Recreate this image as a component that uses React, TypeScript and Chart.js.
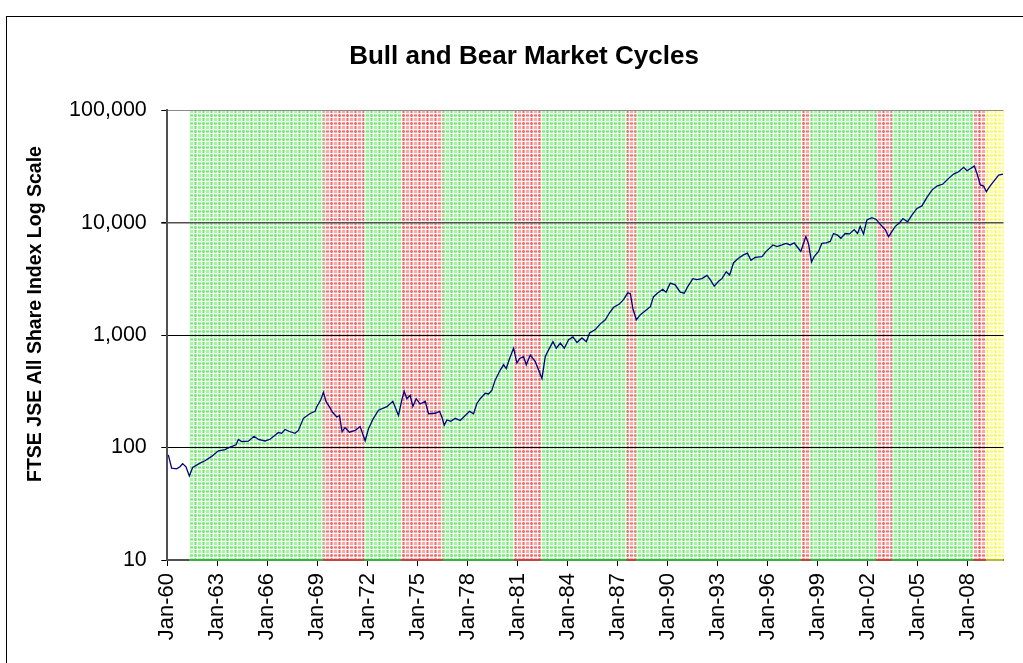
import React, { useEffect, useRef } from 'react';
import { Chart, registerables } from 'chart.js';

Chart.register(...registerables);

// Decimal year of each reading and FTSE/JSE All Share index value
const years = [
  1960.06, 1960.26, 1960.56, 1960.76, 1960.92, 1961.12, 1961.32, 1961.52, 1961.96, 1962.26,
  1962.66, 1963.06, 1963.46, 1963.76, 1964.12, 1964.26, 1964.46, 1964.86, 1965.2, 1965.46,
  1965.86, 1966.16, 1966.66, 1966.86, 1967.06, 1967.32, 1967.66, 1967.86, 1968.16, 1968.56,
  1968.86, 1968.96, 1969.2, 1969.36, 1969.52, 1969.72, 1969.92, 1970.16, 1970.32, 1970.48,
  1970.66, 1970.92, 1971.26, 1971.56, 1971.86, 1972.06, 1972.36, 1972.66, 1973.16, 1973.52,
  1973.86, 1974.06, 1974.2, 1974.36, 1974.56, 1974.72, 1974.92, 1975.16, 1975.46, 1975.66,
  1976.06, 1976.32, 1976.46, 1976.6, 1976.76, 1977.0, 1977.26, 1977.56, 1977.86, 1978.12,
  1978.36, 1978.56, 1978.76, 1979.06, 1979.26, 1979.46, 1979.66, 1979.96, 1980.16, 1980.32,
  1980.52, 1980.76, 1980.96, 1981.12, 1981.36, 1981.52, 1981.76, 1982.06, 1982.26, 1982.46,
  1982.66, 1982.96, 1983.12, 1983.32, 1983.56, 1983.8, 1984.06, 1984.32, 1984.56, 1984.86,
  1985.12, 1985.32, 1985.66, 1985.96, 1986.26, 1986.52, 1986.76, 1987.1, 1987.36, 1987.6,
  1987.76, 1987.92, 1988.12, 1988.36, 1988.66, 1988.96, 1989.15, 1989.38, 1989.7, 1989.9,
  1990.15, 1990.45, 1990.75, 1990.99, 1991.19, 1991.51, 1991.75, 1992.05, 1992.35, 1992.55,
  1992.79, 1993.05, 1993.25, 1993.51, 1993.71, 1993.95, 1994.24, 1994.54, 1994.78, 1994.99,
  1995.24, 1995.65, 1995.9, 1996.31, 1996.55, 1996.85, 1997.1, 1997.34, 1997.58, 1997.84,
  1997.98, 1998.14, 1998.28, 1998.44, 1998.5, 1998.62, 1998.78, 1999.04, 1999.24, 1999.5,
  1999.74, 1999.94, 2000.18, 2000.38, 2000.64, 2000.9, 2001.18, 2001.38, 2001.54, 2001.74,
  2001.94, 2002.24, 2002.5, 2002.78, 2003.04, 2003.24, 2003.44, 2003.64, 2003.9, 2004.1,
  2004.38, 2004.64, 2004.94, 2005.24, 2005.54, 2005.84, 2006.14, 2006.5, 2006.84, 2007.14,
  2007.44, 2007.74, 2007.94, 2008.18, 2008.38, 2008.54, 2008.74, 2008.94, 2009.1, 2009.3,
  2009.54, 2009.84, 2010.1,
];

const indexValues = [
  86, 65.5, 64.6, 67.5, 72, 67.5, 56, 66.5, 72.7, 76.4,
  83.5, 93.6, 95.8, 101, 106, 118, 113, 114, 126, 118,
  114.5, 118.5, 136, 134, 145, 139, 134, 142, 182, 201,
  210, 231, 266, 310, 256, 230, 205, 187, 193, 138,
  151, 137, 142, 154, 115, 147, 182, 215, 231, 258,
  193, 266, 317, 272, 292, 232, 272, 244, 258, 200,
  202, 210, 187, 158, 176, 171, 182, 174, 193, 210,
  200, 247, 272, 304, 300, 324, 400, 489, 545, 505,
  620, 765, 565, 620, 645, 545, 665, 582, 489, 412,
  645, 790, 875, 765, 850, 765, 910, 965, 860, 945,
  875, 1045, 1120, 1260, 1370, 1590, 1770, 1890, 2080, 2380,
  2340, 1700, 1370, 1520, 1650, 1790, 2200, 2360, 2560, 2410,
  2900, 2800, 2410, 2360, 2690, 3180, 3120, 3180, 3400, 3120,
  2730, 3010, 3180, 3670, 3430, 4410, 4830, 5170, 5360, 4640,
  4920, 5000, 5560, 6340, 6140, 6340, 6540, 6340, 6620, 5900,
  5560, 6540, 7530, 6540, 5740, 4480, 4990, 5560, 6540, 6620,
  6820, 8020, 7750, 7280, 8020, 7950, 8680, 8020, 9280, 7950,
  10600, 11100, 10700, 9530, 8690, 7530, 8350, 9280, 10000, 10900,
  10200, 11700, 13400, 14100, 16800, 19500, 21200, 22100, 24800, 27100,
  28400, 31100, 29000, 30500, 31900, 27500, 21700, 21200, 18900, 20900,
  23300, 26500, 27100,
];

// Market-cycle shading: edges (decimal years) and the kind of each band between them
const bandEdges = [
  1961.3, 1969.36, 1971.81, 1974.01, 1976.52, 1980.81, 1982.41, 1987.55,
  1988.09, 1998.0, 1998.56, 2002.5, 2003.44, 2008.34, 2009.08, 2010.13,
];
const bandKinds = [
  'bull', 'bear', 'bull', 'bear', 'bull', 'bear', 'bull', 'bear',
  'bull', 'bear', 'bull', 'bear', 'bull', 'bear', 'current',
];

const xTickYears = [1960, 1963, 1966, 1969, 1972, 1975, 1978, 1981, 1984, 1987, 1990, 1993, 1996, 1999, 2002, 2005, 2008];
const yTickValues = [10, 100, 1000, 10000, 100000];
const xMin = 1960;
const xMax = 2010.13;

const TITLE = 'Bull and Bear Market Cycles';
const Y_TITLE = 'FTSE JSE All Share Index Log Scale';
const FONT = '"Liberation Sans", Arial, Helvetica, sans-serif';

const palette: Record<string, { base: string; light: string; dark: string; edge: string }> = {
  bull: { base: '#a6f6a6', light: '#f4fff4', dark: '#78e878', edge: '#3fae3f' },
  bear: { base: '#f8aaaa', light: '#fff4f4', dark: '#ee7070', edge: '#c04545' },
  current: { base: '#ffff96', light: '#fffff4', dark: '#f4f460', edge: '#b8b83c' },
};

function makePattern(ctx: CanvasRenderingContext2D, kind: string) {
  const p = palette[kind];
  const tile = document.createElement('canvas');
  tile.width = 8;
  tile.height = 8;
  const t = tile.getContext('2d')!;
  t.fillStyle = p.base;
  t.fillRect(0, 0, 8, 8);
  t.fillStyle = p.dark;
  t.fillRect(3, 0, 1, 8);
  t.fillRect(0, 3, 8, 1);
  t.fillStyle = p.light;
  for (const k of [1, 5]) {
    t.fillRect(k, 0, 1, 8);
    t.fillRect(0, k, 8, 1);
  }
  return ctx.createPattern(tile, 'repeat')!;
}

const bandsPlugin = {
  id: 'marketBands',
  beforeDraw(chart: any) {
    const { ctx, chartArea, scales } = chart;
    const x = scales.x;
    ctx.save();
    for (let i = 0; i < bandKinds.length; i++) {
      const x0 = x.getPixelForValue(bandEdges[i]);
      const x1 = x.getPixelForValue(bandEdges[i + 1]);
      ctx.fillStyle = makePattern(ctx, bandKinds[i]);
      ctx.fillRect(x0, chartArea.top, x1 - x0, chartArea.bottom - chartArea.top);
    }
    ctx.restore();
  },
  beforeDatasetsDraw(chart: any) {
    const { ctx, chartArea, scales } = chart;
    const x = scales.x;
    ctx.save();
    for (let i = 0; i < bandKinds.length; i++) {
      const x0 = x.getPixelForValue(bandEdges[i]);
      const x1 = x.getPixelForValue(bandEdges[i + 1]);
      ctx.fillStyle = palette[bandKinds[i]].edge;
      ctx.fillRect(x0, chartArea.bottom - 1, x1 - x0, 2);
    }
    ctx.restore();
  },
  afterDraw(chart: any) {
    const { ctx } = chart;
    ctx.save();
    ctx.fillStyle = '#000';
    ctx.font = `bold 26px ${FONT}`;
    ctx.textAlign = 'center';
    ctx.textBaseline = 'alphabetic';
    ctx.fillText(TITLE, 524, 64);
    ctx.translate(40.5, 314);
    ctx.rotate(-Math.PI / 2);
    ctx.font = `bold 19.5px ${FONT}`;
    ctx.fillText(Y_TITLE, 0, 0);
    ctx.restore();
  },
};

export default function App() {
  const canvasRef = useRef<HTMLCanvasElement | null>(null);

  useEffect(() => {
    const canvas = canvasRef.current;
    if (!canvas) return;
    const points = years.map((yr, i) => ({ x: yr, y: indexValues[i] }));
    const chart = new Chart(canvas, {
      type: 'line',
      data: {
        datasets: [
          {
            label: 'FTSE JSE All Share',
            data: points,
            borderColor: '#000080',
            borderWidth: 1.3,
            pointRadius: 0,
            tension: 0,
            fill: false,
          },
        ],
      },
      options: {
        responsive: false,
        animation: false,
        devicePixelRatio: 1,
        layout: { padding: { left: 0, top: 110.3, right: 19.5, bottom: 0 } },
        plugins: {
          legend: { display: false },
          title: { display: false },
          tooltip: { enabled: false },
        },
        scales: {
          x: {
            type: 'linear',
            min: xMin,
            max: xMax,
            afterBuildTicks: (scale: any) => {
              scale.ticks = xTickYears.map((v) => ({ value: v }));
            },
            afterFit: (scale: any) => {
              scale.height = 103;
            },
            ticks: {
              autoSkip: false,
              minRotation: 90,
              maxRotation: 90,
              padding: 7,
              color: '#000',
              font: { family: FONT, size: 22 },
              callback: (v: any) => 'Jan-' + String(Math.round(Number(v)) % 100).padStart(2, '0'),
            },
            grid: {
              drawOnChartArea: false,
              drawTicks: true,
              tickLength: 6,
              tickColor: '#000',
            },
            border: { display: true, color: '#505050', width: 2 },
          },
          y: {
            type: 'logarithmic',
            min: 10,
            max: 100000,
            afterBuildTicks: (scale: any) => {
              scale.ticks = yTickValues.map((v) => ({ value: v }));
            },
            afterFit: (scale: any) => {
              scale.width = 167.3;
            },
            ticks: {
              padding: 14.5,
              color: '#000',
              font: { family: FONT, size: 21.5 },
              callback: (v: any) => Number(v).toLocaleString('en-US'),
            },
            grid: {
              drawOnChartArea: true,
              drawTicks: true,
              tickLength: 6,
              tickColor: '#000',
              color: (c: any) => {
                const v = c.tick ? c.tick.value : 0;
                if (v === 100000) return '#8c8c8c';
                if (v === 10000) return '#505050';
                return '#000';
              },
              lineWidth: (c: any) => (c.tick && c.tick.value === 10000 ? 1.6 : 1),
            },
            border: { display: true, color: '#505050', width: 2 },
          },
        },
      },
      plugins: [bandsPlugin],
    });
    return () => chart.destroy();
  }, []);

  return (
    <div
      style={{
        position: 'fixed',
        left: 0,
        top: 0,
        width: 1023,
        height: 663,
        background: '#fff',
        overflow: 'hidden',
      }}
    >
      <div
        style={{
          position: 'absolute',
          left: 6,
          top: 16,
          width: 1100,
          height: 700,
          border: '1px solid #000',
        }}
      />
      <canvas
        ref={canvasRef}
        width={1023}
        height={663}
        style={{ position: 'absolute', left: 0, top: 0, width: 1023, height: 663 }}
      />
    </div>
  );
}
